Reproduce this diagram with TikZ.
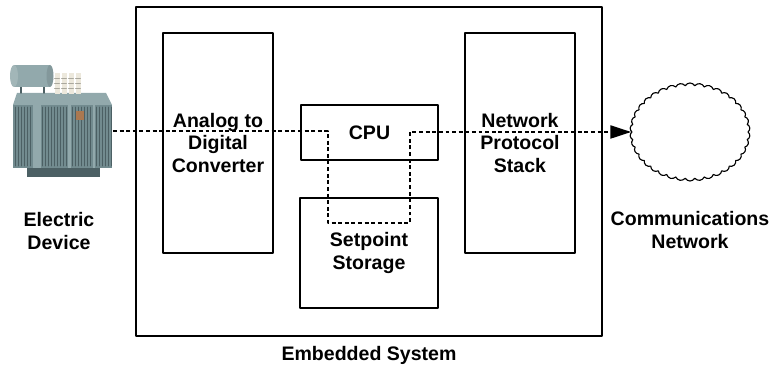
\documentclass[tikz,border=0pt]{standalone}
\usepackage{fontspec}
\setmainfont{Liberation Sans}
\usepackage{tikz}
\usetikzlibrary{arrows.meta,shapes.symbols}
\definecolor{tankgray}{RGB}{114,139,143}
\definecolor{tankdark}{RGB}{76,96,100}
\definecolor{tanklight}{RGB}{146,169,172}
\definecolor{bushwhite}{RGB}{236,232,220}
\definecolor{bushgray}{RGB}{170,168,158}
\definecolor{plate}{RGB}{170,120,80}

\begin{document}
\begin{tikzpicture}[line cap=round,line join=round,>={Triangle[length=0.52cm,width=0.33cm]},x=0.025cm,y=-0.025cm,
  font=\fontsize{13.9}{16.2}\selectfont\bfseries,
  block/.style={draw,line width=1.2pt,align=center,inner sep=0pt},
  dotline/.style={line width=1pt,line cap=butt,dash pattern=on 2.8pt off 1.9pt}]
\useasboundingbox (0,0) rectangle (769,365);
% electric device
\fill[tankdark] (27,166) rectangle (100,177);
\fill[tankgray] (13,105) rectangle (112,168);
\foreach \x in {15,18,...,111}
  \draw[tankdark,line width=0.5pt] (\x,107) -- (\x,166);
\fill[tanklight] (33,105) rectangle (41,168);
\fill[tanklight] (68,105) rectangle (71,168);
\fill[tanklight] (93,105) rectangle (95,168);
\fill[plate] (76,111) rectangle (84,120);
\fill[tanklight] (17,93) -- (106,93) -- (112,105) -- (13,105) -- cycle;
\draw[tankdark,line width=1pt] (21,86) -- (21,93);
\draw[tankdark,line width=1pt] (44,86) -- (44,93);
\fill[tanklight] (14,65) rectangle (50,87);
\fill[tanklight!85!white] (14,76) ellipse (4 and 11);
\fill[tanklight!90!black] (50,76) ellipse (3.5 and 11);
\foreach \x in {57,64,71,78} {
  \fill[bushwhite] (\x-2.5,73) rectangle (\x+2.5,94);
  \draw[bushgray,line width=0.5pt] (\x-2.5,78) -- (\x+2.5,78);
  \draw[bushgray,line width=0.5pt] (\x-2.5,83) -- (\x+2.5,83);
  \draw[bushgray,line width=0.5pt] (\x-2.5,88) -- (\x+2.5,88);
}
\coordinate (devout) at (113,131);
\node[align=center] (devlbl) at (59,231) {Electric\\Device};
% embedded system
\node[block,line width=1.3pt,minimum width=11.65cm,minimum height=8.225cm] (emb) at (369,171.5) {};
\node (emblbl) at (369,355) {Embedded System};
\node[block,minimum width=2.75cm,minimum height=5.5cm] (adc) at (218,143) {Analog to\\Digital\\Converter};
\node[block,minimum width=3.425cm,minimum height=1.375cm] (cpu) at (369.5,132.5) {CPU};
\node[block,minimum width=3.45cm,minimum height=2.75cm] (store) at (369,253) {Setpoint\\Storage};
\node[block,minimum width=2.75cm,minimum height=5.5cm] (stack) at (520,143) {Network\\Protocol\\Stack};
% network
\node[cloud,draw,line width=0.8pt,cloud puffs=38,cloud puff arc=120,cloud ignores aspect,
  minimum width=3.0cm,minimum height=2.45cm,inner sep=0pt] (comms) at (690,132) {};
\node[align=center] (commslbl) at (690,230) {Communications\\Network};
% data path
\coordinate (c1) at (328,223);
\coordinate (c2) at (410,223);
\draw[dotline,->] (devout) -| (c1) -- (c2) |- (comms.west);
\end{tikzpicture}
\end{document}
